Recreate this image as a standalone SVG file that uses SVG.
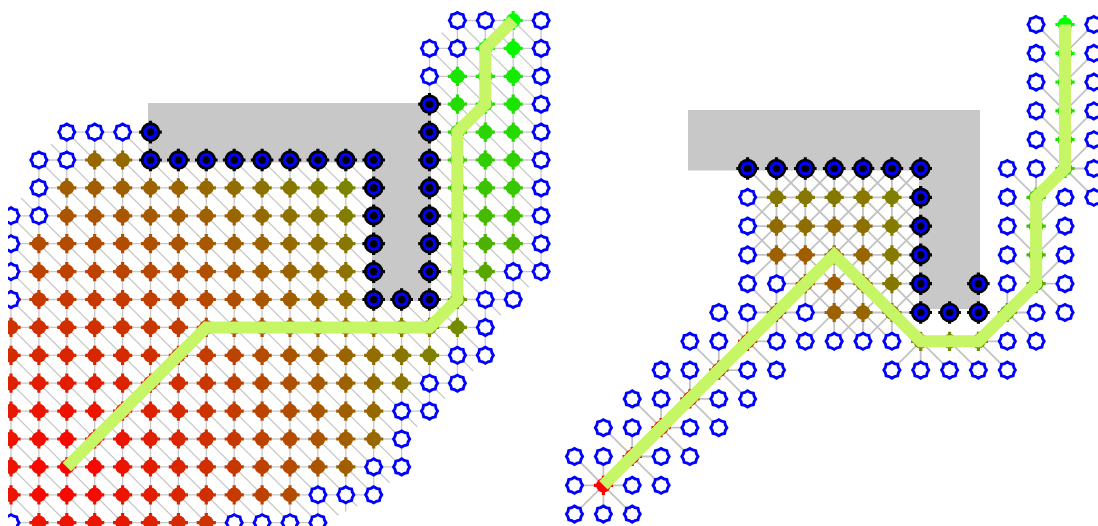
<svg xmlns="http://www.w3.org/2000/svg" width="1098" height="526" viewBox="0 0 1098 526">
<defs>
<style>
.e{fill:none;stroke:#c8c8c8;stroke-width:1.3}
.e2{fill:none;stroke:#c3c3c3;stroke-width:1.8}
.p{fill:none;stroke:#c6f566;stroke-width:12;stroke-linejoin:miter}
.o{fill:#c8c8c8}
</style>
<g id="f"><circle r="7.3"/><path d="M-1.6-9.6h3.2v19.2h-3.2zM-9.6-1.6h19.2v3.2h-19.2z"/></g>
<path id="h" d="M8.1 0 6.5 2.7 5.8 5.8 2.7 6.5 0 8.1-2.7 6.5-5.8 5.8-6.5 2.7-8.1 0-6.5-2.7-5.8-5.8-2.7-6.5 0-8.1 2.7-6.5 5.8-5.8 6.5-2.7Z" fill="#fff" stroke="#00f" stroke-width="2.9"/>
<g id="b" fill="#000"><circle r="9.8"/><path d="M-1.6-11.3h3.2v22.6h-3.2zM-11.3-1.6h22.6v3.2h-22.6z"/><circle r="7" fill="#00f"/><circle r="3.8"/></g>
<g id="s2"><use href="#f" x="66.8"/><use href="#f" x="94.7"/><use href="#f" x="122.6"/><use href="#f" x="150.5"/><use href="#f" x="178.4"/><use href="#f" x="206.3"/><use href="#f" x="234.2"/><use href="#f" x="262.1"/><use href="#f" x="290"/><use href="#f" x="317.9"/><use href="#f" x="345.8"/></g>
<g id="s01"><use href="#f" x="11"/><use href="#f" x="38.9"/></g>
<radialGradient id="gL" gradientUnits="userSpaceOnUse" cx="66.8" cy="466.9" r="762"><stop offset="0" stop-color="#f00"/><stop offset="1" stop-color="#0f0"/></radialGradient>
<mask id="mL" maskUnits="userSpaceOnUse" x="0" y="0" width="560" height="526">
<g fill="#fff">
<use href="#f" x="94.7" y="160"/><use href="#f" x="122.6" y="160"/>
<use href="#s2" y="187.9"/>
<use href="#s2" y="215.8"/>
<use href="#s2" y="243.7"/><use href="#f" x="38.9" y="243.7"/>
<use href="#s2" y="271.6"/><use href="#f" x="38.9" y="271.6"/>
<use href="#s2" y="299.5"/><use href="#s01" y="299.5"/>
<use href="#s2" y="327.4"/><use href="#s01" y="327.4"/><use href="#f" x="373.7" y="327.4"/><use href="#f" x="401.6" y="327.4"/><use href="#f" x="429.5" y="327.4"/><use href="#f" x="457.4" y="327.4"/>
<use href="#s2" y="355.3"/><use href="#s01" y="355.3"/><use href="#f" x="373.7" y="355.3"/><use href="#f" x="401.6" y="355.3"/><use href="#f" x="429.5" y="355.3"/>
<use href="#s2" y="383.2"/><use href="#s01" y="383.2"/><use href="#f" x="373.7" y="383.2"/><use href="#f" x="401.6" y="383.2"/>
<use href="#s2" y="411.1"/><use href="#s01" y="411.1"/><use href="#f" x="373.7" y="411.1"/>
<use href="#s2" y="439"/><use href="#s01" y="439"/><use href="#f" x="373.7" y="439"/>
<use href="#s2" y="466.9"/><use href="#s01" y="466.9"/>
<g transform="translate(0,494.8)"><use href="#s01"/><use href="#f" x="66.8"/><use href="#f" x="94.7"/><use href="#f" x="122.6"/><use href="#f" x="150.5"/><use href="#f" x="178.4"/><use href="#f" x="206.3"/><use href="#f" x="234.2"/><use href="#f" x="262.1"/><use href="#f" x="290"/></g>
<g transform="translate(0,522.7)"><use href="#f" x="38.9"/><use href="#f" x="66.8"/><use href="#f" x="94.7"/><use href="#f" x="122.6"/><use href="#f" x="150.5"/><use href="#f" x="178.4"/><use href="#f" x="206.3"/></g>
</g>
</mask>
<clipPath id="cL"><rect x="8" y="0" width="552" height="526"/></clipPath>
<clipPath id="cE"><path d="M456,18L543,18L543,273L515,301L487,329L487,357L459,385L431,413L403,441L403,469L375.5,497L319,525L319,530L0,530L0,213.5L37,186.5L37,158L65.5,130L152.5,130L152.5,158L375.7,158L375.7,297.5L427.5,297.5L427.5,47Z"/></clipPath>
</defs>

<g id="left-panel" clip-path="url(#cL)">
<path id="left-obstacle" class="o" d="M148,103H431V301H372V162.5H148Z"/>
<g id="left-edges" clip-path="url(#cE)">
<path class="e" d="M11,0V526M38.9,0V526M66.8,0V526M94.7,0V526M122.6,0V526M150.5,0V526M178.4,0V526M206.3,0V526M234.2,0V526M262.1,0V526M290,0V526M317.9,0V526M345.8,0V526M373.7,0V526M401.6,0V526M429.5,0V526M457.4,0V526M485.3,0V526M513.2,0V526M541.1,0V526
M0,20.5H556M0,48.4H556M0,76.3H556M0,104.2H556M0,132.1H556M0,160H556M0,187.9H556M0,215.8H556M0,243.7H556M0,271.6H556M0,299.5H556M0,327.4H556M0,355.3H556M0,383.2H556M0,411.1H556M0,439H556M0,466.9H556M0,494.8H556M0,522.7H556
M-521.7,-10l560,560M-493.8,-10l560,560M-465.9,-10l560,560M-438,-10l560,560M-410.1,-10l560,560M-382.2,-10l560,560M-354.3,-10l560,560M-326.4,-10l560,560M-298.5,-10l560,560M-270.6,-10l560,560M-242.7,-10l560,560M-214.8,-10l560,560M-186.9,-10l560,560M-159,-10l560,560M-131.1,-10l560,560M-103.2,-10l560,560M-75.3,-10l560,560M-47.4,-10l560,560M-19.5,-10l560,560M8.4,-10l560,560M36.3,-10l560,560M64.2,-10l560,560M92.1,-10l560,560M120,-10l560,560M147.9,-10l560,560M175.8,-10l560,560M203.7,-10l560,560M231.6,-10l560,560M259.5,-10l560,560M287.4,-10l560,560M315.3,-10l560,560M343.2,-10l560,560M371.1,-10l560,560M399,-10l560,560M426.9,-10l560,560M454.8,-10l560,560M482.7,-10l560,560M510.6,-10l560,560"/>
</g>
<g id="left-closed">
<rect x="0" y="0" width="560" height="526" fill="url(#gL)" mask="url(#mL)"/>
<use href="#f" x="513.2" y="20.5" fill="#00ff00"/>
<use href="#f" x="485.3" y="48.4" fill="#0df200"/><use href="#f" x="513.2" y="48.4" fill="#09f600"/>
<use href="#f" x="457.4" y="76.3" fill="#1ae500"/><use href="#f" x="485.3" y="76.3" fill="#16e900"/><use href="#f" x="513.2" y="76.3" fill="#13ec00"/>
<use href="#f" x="457.4" y="104.2" fill="#24db00"/><use href="#f" x="485.3" y="104.2" fill="#20df00"/><use href="#f" x="513.2" y="104.2" fill="#1ce300"/>
<use href="#f" x="457.4" y="132.1" fill="#2dd200"/><use href="#f" x="485.3" y="132.1" fill="#29d600"/><use href="#f" x="513.2" y="132.1" fill="#25da00"/>
<use href="#f" x="457.4" y="160" fill="#36c900"/><use href="#f" x="485.3" y="160" fill="#32cd00"/><use href="#f" x="513.2" y="160" fill="#2fd000"/>
<use href="#f" x="457.4" y="187.9" fill="#40bf00"/><use href="#f" x="485.3" y="187.9" fill="#3cc300"/><use href="#f" x="513.2" y="187.9" fill="#38c700"/>
<use href="#f" x="457.4" y="215.8" fill="#49b600"/><use href="#f" x="485.3" y="215.8" fill="#45ba00"/><use href="#f" x="513.2" y="215.8" fill="#41be00"/>
<use href="#f" x="457.4" y="243.7" fill="#52ad00"/><use href="#f" x="485.3" y="243.7" fill="#4eb100"/><use href="#f" x="513.2" y="243.7" fill="#4bb400"/>
<use href="#f" x="457.4" y="271.6" fill="#5ca300"/><use href="#f" x="485.3" y="271.6" fill="#58a700"/>
<use href="#f" x="457.4" y="299.5" fill="#659a00"/>
</g>
<g id="left-open">
<use href="#h" x="457.4" y="20.5"/><use href="#h" x="485.3" y="20.5"/><use href="#h" x="541.1" y="20.5"/>
<use href="#h" x="429.5" y="48.4"/><use href="#h" x="457.4" y="48.4"/><use href="#h" x="541.1" y="48.4"/>
<use href="#h" x="429.5" y="76.3"/><use href="#h" x="541.1" y="76.3"/>
<use href="#h" x="541.1" y="104.2"/>
<use href="#h" x="66.8" y="132.1"/><use href="#h" x="94.7" y="132.1"/><use href="#h" x="122.6" y="132.1"/><use href="#h" x="541.1" y="132.1"/>
<use href="#h" x="38.9" y="160"/><use href="#h" x="66.8" y="160"/><use href="#h" x="541.1" y="160"/>
<use href="#h" x="38.9" y="187.9"/><use href="#h" x="541.1" y="187.9"/>
<use href="#h" x="11" y="215.8"/><use href="#h" x="38.9" y="215.8"/><use href="#h" x="541.1" y="215.8"/>
<use href="#h" x="11" y="243.7"/><use href="#h" x="541.1" y="243.7"/>
<use href="#h" x="11" y="271.6"/><use href="#h" x="513.2" y="271.6"/><use href="#h" x="541.1" y="271.6"/>
<use href="#h" x="11" y="299.5"/><use href="#h" x="485.3" y="299.5"/><use href="#h" x="513.2" y="299.5"/>
<use href="#h" x="485.3" y="327.4"/>
<use href="#h" x="457.4" y="355.3"/><use href="#h" x="485.3" y="355.3"/>
<use href="#h" x="429.5" y="383.2"/><use href="#h" x="457.4" y="383.2"/>
<use href="#h" x="401.6" y="411.1"/><use href="#h" x="429.5" y="411.1"/>
<use href="#h" x="401.6" y="439"/>
<use href="#h" x="373.7" y="466.9"/><use href="#h" x="401.6" y="466.9"/>
<use href="#h" x="317.9" y="494.8"/><use href="#h" x="345.8" y="494.8"/><use href="#h" x="373.7" y="494.8"/>
<use href="#h" x="11" y="522.7"/><use href="#h" x="234.2" y="522.7"/><use href="#h" x="262.1" y="522.7"/><use href="#h" x="290" y="522.7"/><use href="#h" x="317.9" y="522.7"/>
</g>
<g id="left-blocked">
<use href="#b" x="429.5" y="104.2"/>
<use href="#b" x="150.5" y="132.1"/><use href="#b" x="429.5" y="132.1"/>
<use href="#b" x="150.5" y="160"/><use href="#b" x="178.4" y="160"/><use href="#b" x="206.3" y="160"/><use href="#b" x="234.2" y="160"/><use href="#b" x="262.1" y="160"/><use href="#b" x="290" y="160"/><use href="#b" x="317.9" y="160"/><use href="#b" x="345.8" y="160"/><use href="#b" x="373.7" y="160"/><use href="#b" x="429.5" y="160"/>
<use href="#b" x="373.7" y="187.9"/><use href="#b" x="429.5" y="187.9"/>
<use href="#b" x="373.7" y="215.8"/><use href="#b" x="429.5" y="215.8"/>
<use href="#b" x="373.7" y="243.7"/><use href="#b" x="429.5" y="243.7"/>
<use href="#b" x="373.7" y="271.6"/><use href="#b" x="429.5" y="271.6"/>
<use href="#b" x="373.7" y="299.5"/><use href="#b" x="401.6" y="299.5"/><use href="#b" x="429.5" y="299.5"/>
</g>
<path id="left-path" class="p" d="M66.8,466.9L206.3,327.4H429.5L457.4,299.5V132.1L485.3,104.2V48.4L513.2,20.5"/>
</g>

<g id="right-panel">
<path id="right-obstacle" class="o" d="M688,110H980V309H919V170.5H688Z"/>
<path id="right-edges" class="e2" d="M574.5,456.5l57.7,57.6M603.4,456.5v28.8h28.9M603.4,427.7l57.7,57.6M632.2,427.7v28.8h28.9M632.2,398.9l57.7,57.6M661.1,398.9v28.8h28.9M661.1,370.1l57.7,57.6M689.9,370.1v28.8h28.9M689.9,341.3l57.7,57.6M718.8,341.3v28.8h28.9M718.8,312.5l57.7,57.6M747.6,312.5v28.8h28.9M747.6,283.7l57.7,57.6M776.5,283.7v28.8h28.9M574.5,485.3h28.9M574.5,514.1l28.9-28.8M603.4,485.3v28.8
M747.6,197.3H920.7M747.6,226.1H920.7M747.6,254.9H920.7M776.5,283.7H920.7M747.6,312.5H920.7
M776.5,168.5V341.3M805.3,168.5V312.5M834.2,168.5V341.3M863,168.5V341.3M891.9,168.5V341.3
M747.6,168.5L949.6,370.1M776.5,168.5L920.7,312.5M805.3,168.5L920.7,283.7M834.2,168.5L920.7,254.9M863,168.5L920.7,226.1M891.9,168.5L920.7,197.3M747.6,197.3L891.9,341.3M747.6,226.1L863,341.3
M747.6,226.1L805.3,168.5M747.6,254.9L834.2,168.5M747.6,283.7L863,168.5M776.5,283.7L891.9,168.5M776.5,312.5L920.7,168.5M805.3,312.5L920.7,197.3M805.3,341.3L920.7,226.1M834.2,341.3L920.7,254.9M863,341.3L920.7,283.7
M891.9,370.1L920.7,341.3V370.1M949.6,341.3L978.4,370.1M978.4,341.3L1007.3,370.1M978.4,341.3H1007.3M1007.3,283.7V312.5L1036.1,341.3M1007.3,312.5H1036.1M1036.1,283.7L1065,312.5M1036.1,283.7H1065
M1007.3,254.9L1036.1,283.7L1065,254.9M1007.3,226.1L1036.1,254.9L1065,226.1M1007.3,197.3L1036.1,226.1L1065,197.3M1007.3,168.5L1036.1,197.3V168.5M1065,168.5L1093.8,197.3M1065,168.5H1093.8
M1036.1,139.7L1065,168.5L1093.8,139.7M1036.1,110.9L1065,139.7L1093.8,110.9M1036.1,82.1L1065,110.9L1093.8,82.1M1036.1,53.3L1065,82.1L1093.8,53.3M1036.1,24.5L1065,53.3L1093.8,24.5"/>
<g id="right-closed">
<use href="#f" x="1065" y="24.5" fill="#00ff00"/><use href="#f" x="1065" y="53.3" fill="#09f600"/><use href="#f" x="1065" y="82.1" fill="#11ee00"/><use href="#f" x="1065" y="110.9" fill="#1ae500"/><use href="#f" x="1065" y="139.7" fill="#22dd00"/><use href="#f" x="1065" y="168.5" fill="#2bd400"/>
<use href="#f" x="1036.1" y="197.3" fill="#37c800"/><use href="#f" x="1036.1" y="226.1" fill="#40bf00"/><use href="#f" x="1036.1" y="254.9" fill="#48b700"/><use href="#f" x="1036.1" y="283.7" fill="#51ae00"/><use href="#f" x="1007.3" y="312.5" fill="#5da200"/>
<use href="#f" x="978.4" y="341.3" fill="#699600"/><use href="#f" x="949.6" y="341.3" fill="#718e00"/><use href="#f" x="920.7" y="341.3" fill="#7a8500"/>
<use href="#f" x="776.5" y="197.3" fill="#857800"/><use href="#f" x="805.3" y="197.3" fill="#867700"/><use href="#f" x="834.2" y="197.3" fill="#857800"/><use href="#f" x="863" y="197.3" fill="#8a7800"/><use href="#f" x="891.9" y="197.3" fill="#808000"/>
<use href="#f" x="776.5" y="226.1" fill="#906c00"/><use href="#f" x="805.3" y="226.1" fill="#8e6e00"/><use href="#f" x="834.2" y="226.1" fill="#926b00"/><use href="#f" x="863" y="226.1" fill="#8c7100"/><use href="#f" x="891.9" y="226.1" fill="#847c00"/>
<use href="#f" x="776.5" y="254.9" fill="#9c6000"/><use href="#f" x="805.3" y="254.9" fill="#a05d00"/><use href="#f" x="834.2" y="254.9" fill="#9e6100"/><use href="#f" x="863" y="254.9" fill="#986600"/><use href="#f" x="891.9" y="254.9" fill="#867a00"/>
<use href="#f" x="805.3" y="283.7" fill="#aa5500"/><use href="#f" x="834.2" y="283.7" fill="#a05d00"/><use href="#f" x="863" y="283.7" fill="#907000"/><use href="#f" x="891.9" y="283.7" fill="#857800"/>
<use href="#f" x="776.5" y="312.5" fill="#b64900"/><use href="#f" x="834.2" y="312.5" fill="#9c6200"/><use href="#f" x="863" y="312.5" fill="#986600"/><use href="#f" x="891.9" y="312.5" fill="#8a7600"/>
<use href="#f" x="747.6" y="341.3" fill="#c23d00"/><use href="#f" x="718.8" y="370.1" fill="#cf3000"/><use href="#f" x="689.9" y="398.9" fill="#db2400"/><use href="#f" x="661.1" y="427.7" fill="#e71800"/><use href="#f" x="632.2" y="456.5" fill="#f30c00"/><use href="#f" x="603.4" y="485.3" fill="#ff0000"/>
</g>
<g id="right-open">
<use href="#h" x="1036.1" y="24.5"/><use href="#h" x="1093.8" y="24.5"/>
<use href="#h" x="1036.1" y="53.3"/><use href="#h" x="1093.8" y="53.3"/>
<use href="#h" x="1036.1" y="82.1"/><use href="#h" x="1093.8" y="82.1"/>
<use href="#h" x="1036.1" y="110.9"/><use href="#h" x="1093.8" y="110.9"/>
<use href="#h" x="1036.1" y="139.7"/><use href="#h" x="1093.8" y="139.7"/>
<use href="#h" x="1007.3" y="168.5"/><use href="#h" x="1036.1" y="168.5"/><use href="#h" x="1093.8" y="168.5"/>
<use href="#h" x="747.6" y="197.3"/><use href="#h" x="1007.3" y="197.3"/><use href="#h" x="1065" y="197.3"/><use href="#h" x="1093.8" y="197.3"/>
<use href="#h" x="747.6" y="226.1"/><use href="#h" x="1007.3" y="226.1"/><use href="#h" x="1065" y="226.1"/>
<use href="#h" x="747.6" y="254.9"/><use href="#h" x="1007.3" y="254.9"/><use href="#h" x="1065" y="254.9"/>
<use href="#h" x="747.6" y="283.7"/><use href="#h" x="776.5" y="283.7"/><use href="#h" x="1007.3" y="283.7"/><use href="#h" x="1065" y="283.7"/>
<use href="#h" x="718.8" y="312.5"/><use href="#h" x="747.6" y="312.5"/><use href="#h" x="805.3" y="312.5"/><use href="#h" x="1036.1" y="312.5"/><use href="#h" x="1065" y="312.5"/>
<use href="#h" x="689.9" y="341.3"/><use href="#h" x="718.8" y="341.3"/><use href="#h" x="776.5" y="341.3"/><use href="#h" x="805.3" y="341.3"/><use href="#h" x="834.2" y="341.3"/><use href="#h" x="863" y="341.3"/><use href="#h" x="891.9" y="341.3"/><use href="#h" x="1007.3" y="341.3"/><use href="#h" x="1036.1" y="341.3"/>
<use href="#h" x="661.1" y="370.1"/><use href="#h" x="689.9" y="370.1"/><use href="#h" x="747.6" y="370.1"/><use href="#h" x="776.5" y="370.1"/><use href="#h" x="891.9" y="370.1"/><use href="#h" x="920.7" y="370.1"/><use href="#h" x="949.6" y="370.1"/><use href="#h" x="978.4" y="370.1"/><use href="#h" x="1007.3" y="370.1"/>
<use href="#h" x="632.2" y="398.9"/><use href="#h" x="661.1" y="398.9"/><use href="#h" x="718.8" y="398.9"/><use href="#h" x="747.6" y="398.9"/>
<use href="#h" x="603.4" y="427.7"/><use href="#h" x="632.2" y="427.7"/><use href="#h" x="689.9" y="427.7"/><use href="#h" x="718.8" y="427.7"/>
<use href="#h" x="574.5" y="456.5"/><use href="#h" x="603.4" y="456.5"/><use href="#h" x="661.1" y="456.5"/><use href="#h" x="689.9" y="456.5"/>
<use href="#h" x="574.5" y="485.3"/><use href="#h" x="632.2" y="485.3"/><use href="#h" x="661.1" y="485.3"/>
<use href="#h" x="574.5" y="514.1"/><use href="#h" x="603.4" y="514.1"/><use href="#h" x="632.2" y="514.1"/>
</g>
<g id="right-blocked">
<use href="#b" x="747.6" y="168.5"/><use href="#b" x="776.5" y="168.5"/><use href="#b" x="805.3" y="168.5"/><use href="#b" x="834.2" y="168.5"/><use href="#b" x="863" y="168.5"/><use href="#b" x="891.9" y="168.5"/><use href="#b" x="920.7" y="168.5"/>
<use href="#b" x="920.7" y="197.3"/><use href="#b" x="920.7" y="226.1"/><use href="#b" x="920.7" y="254.9"/>
<use href="#b" x="920.7" y="283.7"/><use href="#b" x="978.4" y="283.7"/>
<use href="#b" x="920.7" y="312.5"/><use href="#b" x="949.6" y="312.5"/><use href="#b" x="978.4" y="312.5"/>
</g>
<path id="right-path" class="p" d="M603.4,485.3L834.2,254.9L920.7,341.3H978.4L1036.1,283.7V197.3L1065,168.5V24.5"/>
</g>
</svg>
